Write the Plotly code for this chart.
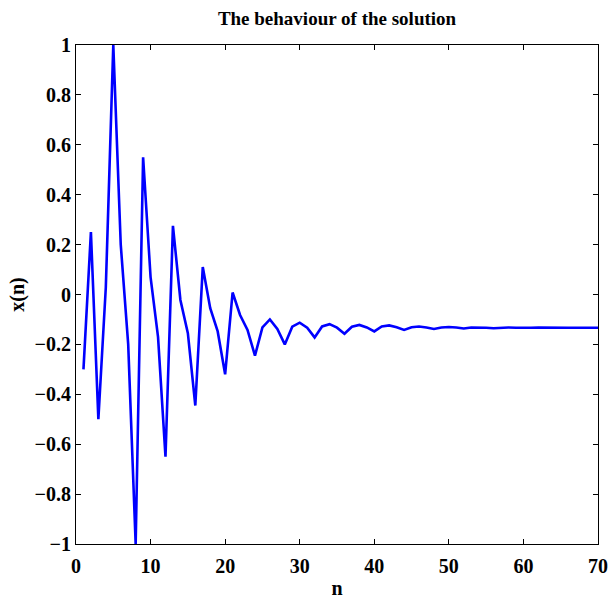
import plotly.graph_objects as go

n_values = list(range(1, 71))
x_values = [
    -0.30, 0.25, -0.50, 0.03, 1.00, 0.20, -0.20, -1.00, 0.55, 0.07,
    -0.17, -0.65, 0.275, -0.022, -0.155, -0.445, 0.11, -0.055, -0.148, -0.32,
    0.008, -0.082, -0.142, -0.245, -0.132, -0.10, -0.138, -0.20, -0.129, -0.113,
    -0.133, -0.172, -0.128, -0.119, -0.133, -0.157, -0.129, -0.122, -0.132, -0.148,
    -0.128, -0.124, -0.131, -0.142, -0.131, -0.128, -0.132, -0.138, -0.132, -0.130,
    -0.132, -0.136, -0.132, -0.131, -0.133, -0.135, -0.132, -0.132, -0.133, -0.134,
    -0.133, -0.132, -0.133, -0.134, -0.133, -0.133, -0.133, -0.133, -0.133, -0.133,
]

x_ticks = [0, 10, 20, 30, 40, 50, 60, 70]
y_ticks = [-1, -0.8, -0.6, -0.4, -0.2, 0, 0.2, 0.4, 0.6, 0.8, 1]
y_tick_labels = ["\u22121", "\u22120.8", "\u22120.6", "\u22120.4", "\u22120.2", "0",
                 "0.2", "0.4", "0.6", "0.8", "1"]

title_text = "The behaviour of the solution"
x_label = "n"
y_label = "x(n)"

font_family = "Liberation Serif, Times New Roman, serif"

W, H = 608, 599
L, R, T, B = 76, 10, 45, 55

fig = go.Figure()
fig.add_trace(go.Scatter(
    x=n_values, y=x_values, mode="lines",
    line=dict(color="#0000ff", width=2.6),
    showlegend=False, hoverinfo="skip",
))

axis_common = dict(
    showline=True, linecolor="black", linewidth=1.2, mirror="allticks",
    ticks="inside", ticklen=5, tickwidth=1, tickcolor="black",
    showgrid=False, zeroline=False, automargin=False,
    tickfont=dict(family=font_family, size=20, color="black", weight="bold"),
)

fig.update_layout(
    width=W, height=H,
    margin=dict(l=L, r=R, t=T, b=B, autoexpand=False),
    paper_bgcolor="white", plot_bgcolor="white",
    title=dict(text="<b>" + title_text + "</b>", x=(L + (W - R - L) / 2) / W, xanchor="center",
               y=1 - 18 / H, yanchor="middle",
               font=dict(family=font_family, size=19, color="black")),
    xaxis=dict(range=[0, 70], tickvals=x_ticks, ticktext=[str(t) for t in x_ticks],
               ticklabelstandoff=4,
               title=dict(text="<b>" + x_label + "</b>", standoff=4,
                          font=dict(family=font_family, size=20, color="black")),
               **axis_common),
    yaxis=dict(range=[-1, 1], tickvals=y_ticks, ticktext=y_tick_labels,
               title=dict(text="<b>" + y_label + "</b>", standoff=4,
                          font=dict(family=font_family, size=20, color="black")),
               **axis_common),
)

fig.write_html(
    "out.html",
    config={"displayModeBar": False},
    post_script="document.body.style.margin='0';document.body.style.overflow='hidden';",
)
